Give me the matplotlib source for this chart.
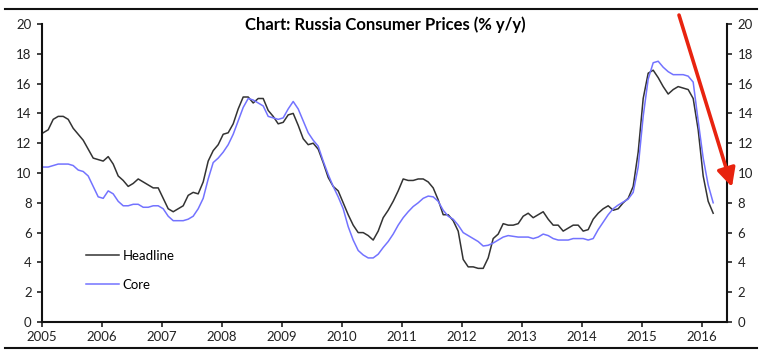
import numpy as np
import matplotlib
matplotlib.use("Agg")
import matplotlib.pyplot as plt
from matplotlib.lines import Line2D

plt.rcParams['font.family'] = ['Lato', 'DejaVu Sans']

# monthly y/y inflation, Jan 2005 .. Mar 2016
headline = [
    12.7, 12.9, 13.6, 13.8, 13.8, 13.6, 13.0, 12.6, 12.2, 11.6, 11.0, 10.9,  # 2005
    10.8, 11.1, 10.6, 9.8, 9.5, 9.1, 9.3, 9.6, 9.4, 9.2, 9.0, 9.0,           # 2006
    8.3, 7.6, 7.4, 7.6, 7.8, 8.5, 8.7, 8.6, 9.4, 10.8, 11.5, 11.9,           # 2007
    12.6, 12.7, 13.3, 14.3, 15.1, 15.1, 14.7, 15.0, 15.0, 14.2, 13.8, 13.3,  # 2008
    13.4, 13.9, 14.0, 13.2, 12.3, 11.9, 12.0, 11.6, 10.7, 9.7, 9.1, 8.8,     # 2009
    8.0, 7.2, 6.5, 6.0, 6.0, 5.8, 5.5, 6.1, 7.0, 7.5, 8.1, 8.8,              # 2010
    9.6, 9.5, 9.5, 9.6, 9.6, 9.4, 9.0, 8.2, 7.2, 7.2, 6.8, 6.1,              # 2011
    4.2, 3.7, 3.7, 3.6, 3.6, 4.3, 5.6, 5.9, 6.6, 6.5, 6.5, 6.6,              # 2012
    7.1, 7.3, 7.0, 7.2, 7.4, 6.9, 6.5, 6.5, 6.1, 6.3, 6.5, 6.5,              # 2013
    6.1, 6.2, 6.9, 7.3, 7.6, 7.8, 7.5, 7.6, 8.0, 8.3, 9.1, 11.4,             # 2014
    15.0, 16.7, 16.9, 16.4, 15.8, 15.3, 15.6, 15.8, 15.7, 15.6, 15.0, 12.9,  # 2015
    9.8, 8.1, 7.3,                                                           # 2016
]
core = [
    10.4, 10.4, 10.5, 10.6, 10.6, 10.6, 10.5, 10.2, 10.1, 9.8, 9.1, 8.4,
    8.3, 8.8, 8.6, 8.1, 7.8, 7.8, 7.9, 7.9, 7.7, 7.7, 7.8, 7.8,
    7.6, 7.1, 6.8, 6.8, 6.8, 6.9, 7.1, 7.6, 8.3, 9.6, 10.7, 11.0,
    11.4, 11.9, 12.6, 13.5, 14.4, 15.0, 14.9, 14.7, 14.5, 13.8, 13.7, 13.6,
    13.7, 14.3, 14.8, 14.3, 13.5, 12.7, 12.2, 11.8, 10.8, 9.9, 9.1, 8.4,
    7.6, 6.4, 5.5, 4.8, 4.5, 4.3, 4.3, 4.55, 5.0, 5.4, 5.9, 6.5,
    7.0, 7.4, 7.75, 8.0, 8.3, 8.45, 8.4, 8.1, 7.5, 7.1, 6.9, 6.5,
    6.0, 5.8, 5.6, 5.4, 5.1, 5.15, 5.3, 5.5, 5.7, 5.8, 5.75, 5.7,
    5.7, 5.7, 5.6, 5.7, 5.9, 5.8, 5.6, 5.5, 5.5, 5.5, 5.6, 5.6,
    5.6, 5.5, 5.6, 6.2, 6.7, 7.2, 7.6, 7.85, 8.05, 8.25, 8.7, 10.4,
    13.8, 16.3, 17.4, 17.5, 17.1, 16.8, 16.6, 16.6, 16.6, 16.5, 16.1, 13.5,
    11.0, 9.2, 8.0,
]
years = list(range(2005, 2017))
t = 2005.02 + np.arange(len(headline)) / 12

fig = plt.figure(figsize=(7.68, 3.54), dpi=100)
ax = fig.add_axes([42/768, 1 - 322/354, (727 - 42)/768, (322 - 24)/354])

ax.plot(t, headline, color="#333333", lw=1.1, label="Headline")
ax.plot(t, core, color="#7373ff", lw=1.1, label="Core")

ax.set_xlim(2005, 2016.417)
ax.set_ylim(0, 20)
ax.set_xticks(years)
ax.set_xticklabels([str(y) for y in years])
ax.set_yticks(np.arange(0, 21, 2))
ax.tick_params(axis="both", direction="out", length=3.5, width=1.2, labelsize=9.5, colors="#222222")
ax.tick_params(axis="y", which="both", left=True, right=True, labelleft=True, labelright=True, pad=4)
ax.tick_params(axis="x", pad=3)
ax.spines["top"].set_visible(False)
for s in ["left", "right", "bottom"]:
    ax.spines[s].set_linewidth(1.5)
    ax.spines[s].set_color("#111111")

leg = ax.legend(loc="upper left", bbox_to_anchor=(0.064, 0.242), frameon=False, fontsize=9.5,
                handlelength=2.5, handletextpad=0.3, labelspacing=1.3, borderpad=0,
                borderaxespad=0)

ax.annotate("", xy=(2016.5, 9.06), xytext=(2015.617, 20.6),
            arrowprops=dict(arrowstyle="-|>", color="#e8230f", lw=2.6, mutation_scale=28,
                            shrinkA=0, shrinkB=0),
            annotation_clip=False)

fig.text(385/768, 1 - 25/354, "Chart: Russia Consumer Prices (% y/y)", ha="center", va="center",
         fontsize=12, fontweight="bold")
fig.add_artist(Line2D([5/768, 757/768], [1 - 9/354, 1 - 9/354], color="#111111", lw=1.5))
fig.add_artist(Line2D([5/768, 757/768], [1 - 348/354, 1 - 348/354], color="#111111", lw=1.5))

fig.savefig("out.png", dpi=100)
